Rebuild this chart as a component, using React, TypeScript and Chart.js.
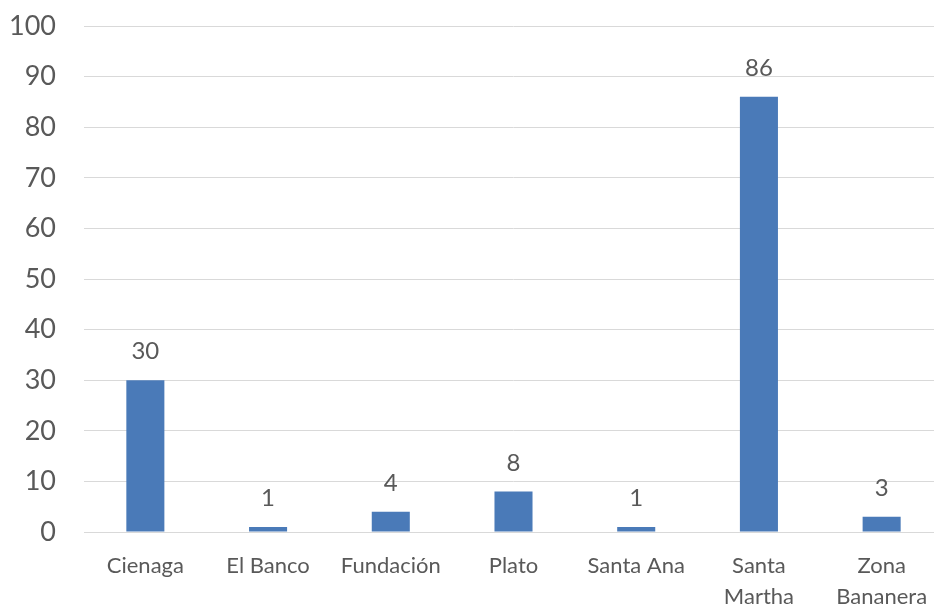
import React, { useEffect, useRef } from "react";
import { Chart, registerables } from "chart.js";

Chart.register(...registerables);

const categories: (string | string[])[] = [
  "Cienaga",
  "El Banco",
  "Fundación",
  "Plato",
  "Santa Ana",
  ["Santa", "Martha"],
  ["Zona", "Bananera"],
];
const values: number[] = [30, 1, 4, 8, 1, 86, 3];
const yTicks: number[] = [0, 10, 20, 30, 40, 50, 60, 70, 80, 90, 100];

const TEXT = "#595959";
const GRID = "#d9d9d9";
const BAR = "#4a7ab8";
const FONT = "Lato, 'Noto Sans', sans-serif";

// The plot runs slightly past the visible frame on the right
const CANVAS_W = 943;
const VIEW_W = 934;
const VIEW_H = 605;

// Draws each bar's value just above it
const valueLabels = {
  id: "valueLabels",
  afterDatasetsDraw(chart: any) {
    const ctx = chart.ctx;
    const meta = chart.getDatasetMeta(0);
    ctx.save();
    ctx.font = `24px ${FONT}`;
    ctx.fillStyle = TEXT;
    ctx.textAlign = "center";
    ctx.textBaseline = "alphabetic";
    meta.data.forEach((bar: any, i: number) => {
      const v = chart.data.datasets[0].data[i];
      ctx.fillText(String(v), bar.x, bar.y - 21);
    });
    ctx.restore();
  },
};

export default function App() {
  const ref = useRef<HTMLCanvasElement | null>(null);

  useEffect(() => {
    if (!ref.current) return;
    const chart = new Chart(ref.current, {
      type: "bar",
      data: {
        labels: categories,
        datasets: [
          {
            data: values,
            backgroundColor: BAR,
            barPercentage: 0.31,
            categoryPercentage: 1,
          },
        ],
      },
      options: {
        responsive: false,
        animation: false,
        layout: { padding: { top: 26, right: 0, left: 0, bottom: 0 } },
        plugins: {
          legend: { display: false },
          tooltip: { enabled: false },
        },
        scales: {
          x: {
            grid: { display: false, drawTicks: false },
            border: { display: true, color: GRID, width: 1 },
            ticks: {
              color: TEXT,
              font: { family: FONT, size: 22, lineHeight: 1.4 },
              padding: 19,
              maxRotation: 0,
              autoSkip: false,
            },
            afterFit(scale: any) {
              scale.height = 73;
              scale.paddingLeft = 0;
              scale.paddingRight = 0;
            },
          },
          y: {
            min: 0,
            max: 100,
            afterBuildTicks(scale: any) {
              scale.ticks = yTicks.map((v) => ({ value: v }));
            },
            grid: { color: GRID, lineWidth: 1, drawTicks: false },
            border: { display: false },
            ticks: {
              color: TEXT,
              font: { family: FONT, size: 27 },
              padding: 28,
            },
            afterFit(scale: any) {
              scale.width = 84;
              scale.paddingTop = 0;
              scale.paddingBottom = 0;
            },
          },
        },
      },
      plugins: [valueLabels],
    });
    return () => chart.destroy();
  }, []);

  return (
    <div
      style={{
        position: "absolute",
        left: 0,
        top: 0,
        width: VIEW_W,
        height: VIEW_H,
        overflow: "hidden",
        background: "#fff",
      }}
    >
      <canvas ref={ref} width={CANVAS_W} height={VIEW_H} style={{ display: "block" }} />
    </div>
  );
}
